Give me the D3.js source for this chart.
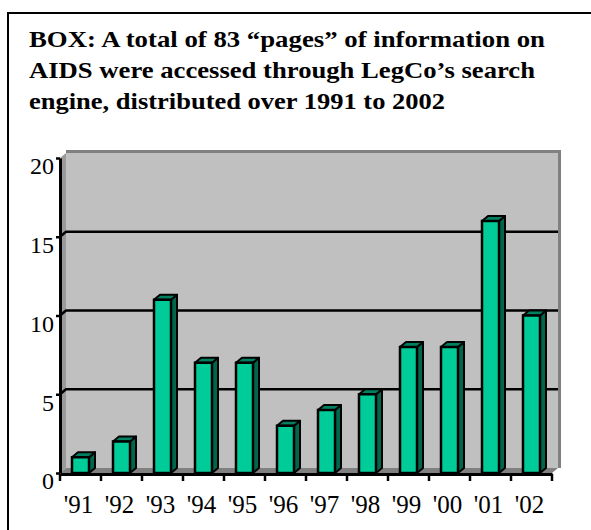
<!DOCTYPE html>
<html>
<head>
<meta charset="utf-8">
<script src="https://d3js.org/d3.v7.min.js"></script>
<style>
  body { margin: 0; background: #fff; }
  svg { display: block; }
</style>
</head>
<body>
<script>
// data
const years = ["'91", "'92", "'93", "'94", "'95", "'96", "'97", "'98", "'99", "'00", "'01", "'02"];
const pages = [1, 2, 11, 7, 7, 3, 4, 5, 8, 8, 16, 10];
const yTicks = [0, 5, 10, 15, 20];
const titleLines = [
  "BOX: A total of 83 \u201Cpages\u201D of information on",
  "AIDS were accessed through LegCo\u2019s search",
  "engine, distributed over 1991 to 2002"
];

const width = 591, height = 530;
const plotLeft = 60, plotRight = 552, plotBottom = 473, plotTop = 158;
const dx = 6, dy = -5;   // depth of the 3d walls
const bdx = 6, bdy = -5; // depth of the bars
const serif = "Liberation Serif, Times New Roman, Times, DejaVu Serif, serif";
const titleWidths = [516, 506, 416]; // width of each title line in the original

const svg = d3.select("body").append("svg")
  .attr("width", width)
  .attr("height", height);

// outer box
svg.append("rect")
  .attr("x", 8).attr("y", 13)
  .attr("width", 640).attr("height", 600)
  .attr("fill", "none")
  .attr("stroke", "#000")
  .attr("stroke-width", 2);

// title
svg.append("g").selectAll("text")
  .data(titleLines)
  .join("text")
    .attr("x", 29)
    .attr("y", (d, i) => 47 + i * 31)
    .attr("font-family", serif)
    .attr("font-weight", "bold")
    .attr("font-size", 23.5)
    .attr("textLength", (d, i) => titleWidths[i])
    .attr("lengthAdjust", "spacingAndGlyphs")
    .text(d => d);

let x = d3.scaleBand().domain(years).range([plotLeft, plotRight]);
let y = d3.scaleLinear().domain([0, 20]).range([plotBottom, plotTop]);

// back wall
svg.append("rect")
  .attr("x", plotLeft + dx).attr("y", plotTop + dy)
  .attr("width", plotRight - plotLeft).attr("height", plotBottom - plotTop)
  .attr("fill", "#c0c0c0");
// wall rim (top and right)
svg.append("path")
  .attr("d", `M${plotLeft + dx},${plotTop + dy - 1.5} H${plotRight + dx + 1.5} V${plotBottom + dy}`)
  .attr("fill", "none")
  .attr("stroke", "#808080")
  .attr("stroke-width", 3);
// side wall
svg.append("path")
  .attr("d", `M${plotLeft},${plotTop} L${plotLeft + dx},${plotTop + dy} L${plotLeft + dx},${plotBottom + dy} L${plotLeft},${plotBottom} Z`)
  .attr("fill", "#9a9a9a");
// floor
svg.append("path")
  .attr("d", `M${plotLeft},${plotBottom} L${plotLeft + dx},${plotBottom + dy} L${plotRight + dx},${plotBottom + dy} L${plotRight},${plotBottom} Z`)
  .attr("fill", "#808080");

// gridlines on the back wall
svg.append("g").selectAll("path")
  .data(yTicks.filter(d => d > 0 && d < 20))
  .join("path")
    .attr("d", d => `M${plotLeft},${y(d)} L${plotLeft + dx},${y(d) + dy} H${plotRight + dx}`)
    .attr("fill", "none")
    .attr("stroke", "#000")
    .attr("stroke-width", 2.5);

// bars
const bw = 17, boff = 12;
const bars = svg.append("g").selectAll("g")
  .data(pages)
  .join("g");

bars.append("path") // side
  .attr("d", (d, i) => {
    const x1 = x(years[i]) + boff + bw;
    return `M${x1},${y(d)} L${x1 + bdx},${y(d) + bdy} L${x1 + bdx},${y(0) + bdy} L${x1},${y(0)} Z`;
  })
  .attr("fill", "#00664c")
  .attr("stroke", "#000")
  .attr("stroke-width", 2)
  .attr("stroke-linejoin", "round");

bars.append("path") // top
  .attr("d", (d, i) => {
    const x0 = x(years[i]) + boff;
    return `M${x0},${y(d)} L${x0 + bdx},${y(d) + bdy} L${x0 + bw + bdx},${y(d) + bdy} L${x0 + bw},${y(d)} Z`;
  })
  .attr("fill", "#008060")
  .attr("stroke", "#000")
  .attr("stroke-width", 2)
  .attr("stroke-linejoin", "round");

bars.append("rect") // front
  .attr("x", (d, i) => x(years[i]) + boff)
  .attr("y", d => y(d))
  .attr("width", bw)
  .attr("height", d => y(0) - y(d))
  .attr("fill", "#00cc99")
  .attr("stroke", "#000")
  .attr("stroke-width", 2.5);

// axes
const yAxis = svg.append("g")
  .attr("transform", `translate(${plotLeft},0)`)
  .call(d3.axisLeft(y).tickValues(yTicks).tickSize(4).tickSizeOuter(0));
yAxis.select(".domain").attr("stroke-width", 3);
yAxis.selectAll(".tick line").attr("stroke-width", 2.5);
yAxis.selectAll("text")
  .attr("x", -6)
  .attr("dy", "0.66em")
  .attr("font-family", serif)
  .attr("font-size", 24)
  .attr("fill", "#000");

const xAxis = svg.append("g")
  .attr("transform", `translate(0,${plotBottom + 1})`)
  .call(d3.axisBottom(x).tickSize(0).tickSizeOuter(0));
xAxis.select(".domain").attr("stroke-width", 3);
xAxis.selectAll("text")
  .attr("y", 39)
  .attr("dy", 0)
  .attr("dx", -2)
  .attr("font-family", serif)
  .attr("font-size", 25)
  .attr("fill", "#000");

// tick marks at the category boundaries
xAxis.append("g").selectAll("line")
  .data(years.concat([null]))
  .join("line")
    .attr("x1", (d, i) => plotLeft + i * x.step())
    .attr("x2", (d, i) => plotLeft + i * x.step())
    .attr("y1", 0)
    .attr("y2", 7)
    .attr("stroke", "#000")
    .attr("stroke-width", 2.5);
</script>
</body>
</html>
